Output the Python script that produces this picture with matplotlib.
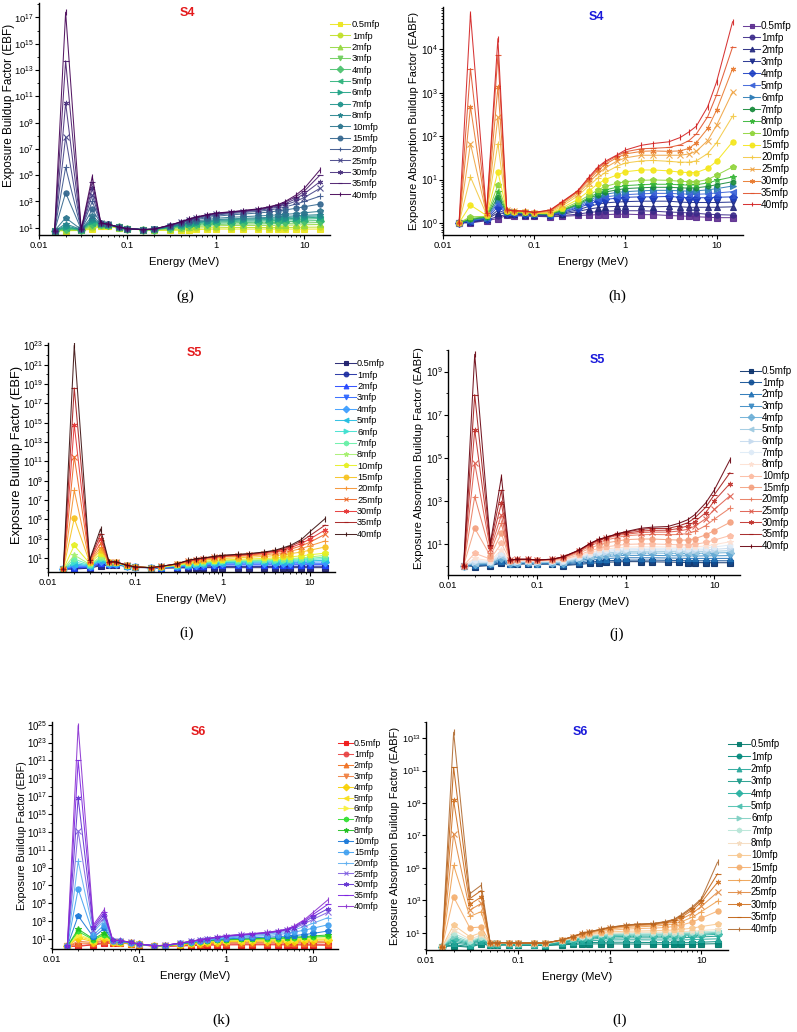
import numpy as np
import matplotlib
matplotlib.use("Agg")
import matplotlib.pyplot as plt
from matplotlib.ticker import FixedLocator, NullFormatter, FuncFormatter

plt.rcParams['font.family'] = ['Liberation Sans', 'DejaVu Sans']
plt.rcParams['mathtext.fontset'] = 'custom'
plt.rcParams['mathtext.rm'] = 'Liberation Sans'
plt.rcParams['mathtext.it'] = 'Liberation Sans:italic'
plt.rcParams['mathtext.bf'] = 'Liberation Sans:bold'

# photon energies (MeV)
energy = [0.015, 0.02, 0.03, 0.04, 0.05, 0.06, 0.08, 0.1, 0.15, 0.2, 0.3, 0.4, 0.5,
          0.6, 0.8, 1, 1.5, 2, 3, 4, 5, 6, 8, 10, 15]
mfp_labels = ['0.5mfp', '1mfp', '2mfp', '3mfp', '4mfp', '5mfp', '6mfp', '7mfp', '8mfp',
              '10mfp', '15mfp', '20mfp', '25mfp', '30mfp', '35mfp', '40mfp']

# log10 of the buildup factors, one row per penetration depth (0.5 ... 40 mfp)
ebf_s4 = [
    [0.77, 0.77, 0.8, 0.9, 1.1, 1.1, 1.0, 0.9, 0.85, 0.8, 0.8, 0.82, 0.85, 0.87, 0.88, 0.9, 0.9, 0.9, 0.9, 0.9, 0.9, 0.9, 0.9, 0.9, 0.9],
    [0.77, 0.8, 0.8, 1.0, 1.15, 1.15, 1.0, 0.9, 0.85, 0.82, 0.85, 0.9, 0.95, 0.98, 1.0, 1.0, 1.02, 1.02, 1.02, 1.02, 1.02, 1.02, 1.03, 1.04, 1.05],
    [0.77, 0.85, 0.82, 1.1, 1.2, 1.18, 1.02, 0.92, 0.86, 0.84, 0.92, 1.0, 1.06, 1.1, 1.13, 1.15, 1.17, 1.18, 1.18, 1.18, 1.19, 1.2, 1.21, 1.23, 1.25],
    [0.77, 0.9, 0.83, 1.2, 1.22, 1.2, 1.03, 0.92, 0.86, 0.85, 0.97, 1.07, 1.14, 1.19, 1.23, 1.25, 1.28, 1.29, 1.3, 1.31, 1.32, 1.33, 1.35, 1.37, 1.4],
    [0.77, 0.93, 0.84, 1.3, 1.25, 1.22, 1.04, 0.93, 0.86, 0.86, 1.0, 1.12, 1.2, 1.26, 1.31, 1.35, 1.38, 1.4, 1.42, 1.43, 1.45, 1.46, 1.49, 1.52, 1.55],
    [0.77, 1.0, 0.85, 1.4, 1.27, 1.23, 1.04, 0.93, 0.86, 0.87, 1.03, 1.16, 1.25, 1.32, 1.38, 1.43, 1.47, 1.5, 1.52, 1.54, 1.56, 1.58, 1.62, 1.66, 1.7],
    [0.77, 1.05, 0.86, 1.5, 1.28, 1.24, 1.05, 0.93, 0.86, 0.87, 1.05, 1.2, 1.3, 1.38, 1.45, 1.5, 1.55, 1.58, 1.61, 1.63, 1.66, 1.68, 1.72, 1.76, 1.8],
    [0.77, 1.15, 0.86, 1.6, 1.29, 1.24, 1.05, 0.93, 0.86, 0.88, 1.07, 1.23, 1.34, 1.42, 1.5, 1.56, 1.62, 1.65, 1.69, 1.72, 1.75, 1.77, 1.82, 1.86, 1.9],
    [0.77, 1.3, 0.87, 1.7, 1.3, 1.25, 1.05, 0.93, 0.86, 0.88, 1.08, 1.25, 1.38, 1.46, 1.55, 1.62, 1.68, 1.72, 1.76, 1.79, 1.83, 1.86, 1.91, 1.95, 2.0],
    [0.77, 1.76, 0.87, 1.9, 1.31, 1.25, 1.05, 0.93, 0.86, 0.88, 1.1, 1.29, 1.44, 1.53, 1.63, 1.72, 1.8, 1.84, 1.9, 1.94, 1.98, 2.02, 2.08, 2.14, 2.25],
    [0.77, 3.66, 0.88, 2.4, 1.33, 1.26, 1.05, 0.93, 0.86, 0.89, 1.13, 1.34, 1.52, 1.63, 1.76, 1.88, 1.98, 2.04, 2.12, 2.2, 2.28, 2.35, 2.48, 2.6, 2.8],
    [0.77, 5.6, 0.88, 3.0, 1.34, 1.26, 1.05, 0.93, 0.86, 0.89, 1.15, 1.38, 1.57, 1.7, 1.85, 1.97, 2.08, 2.15, 2.25, 2.35, 2.46, 2.58, 2.8, 3.0, 3.4],
    [0.77, 7.9, 0.88, 3.5, 1.35, 1.27, 1.05, 0.93, 0.86, 0.9, 1.17, 1.41, 1.61, 1.75, 1.92, 2.03, 2.14, 2.22, 2.32, 2.45, 2.58, 2.72, 3.02, 3.3, 4.0],
    [0.77, 10.5, 0.88, 4.0, 1.36, 1.27, 1.05, 0.93, 0.86, 0.9, 1.18, 1.43, 1.64, 1.78, 1.96, 2.07, 2.18, 2.26, 2.37, 2.52, 2.66, 2.82, 3.2, 3.6, 4.5],
    [0.77, 13.7, 0.88, 4.5, 1.36, 1.27, 1.05, 0.93, 0.86, 0.9, 1.19, 1.44, 1.66, 1.8, 1.99, 2.1, 2.2, 2.29, 2.41, 2.57, 2.72, 2.92, 3.35, 3.8, 5.0],
    [0.77, 17.4, 0.88, 4.9, 1.37, 1.27, 1.05, 0.93, 0.86, 0.9, 1.2, 1.45, 1.68, 1.82, 2.0, 2.12, 2.22, 2.31, 2.44, 2.6, 2.76, 2.98, 3.48, 4.0, 5.4],
]

eabf_s4 = [
    [0, 0, 0.05, 0.1, 0.17, 0.16, 0.16, 0.15, 0.14, 0.15, 0.17, 0.18, 0.19, 0.19, 0.2, 0.2, 0.19, 0.19, 0.17, 0.16, 0.15, 0.14, 0.13, 0.12, 0.12],
    [0, 0.01, 0.06, 0.15, 0.19, 0.18, 0.17, 0.16, 0.15, 0.17, 0.2, 0.24, 0.26, 0.27, 0.28, 0.28, 0.28, 0.27, 0.25, 0.24, 0.23, 0.22, 0.2, 0.19, 0.18],
    [0, 0.02, 0.08, 0.23, 0.21, 0.2, 0.19, 0.18, 0.17, 0.2, 0.26, 0.32, 0.35, 0.37, 0.38, 0.38, 0.38, 0.37, 0.38, 0.37, 0.36, 0.36, 0.36, 0.36, 0.37],
    [0, 0.03, 0.09, 0.29, 0.22, 0.21, 0.2, 0.19, 0.18, 0.22, 0.3, 0.38, 0.43, 0.46, 0.48, 0.49, 0.5, 0.5, 0.5, 0.48, 0.47, 0.47, 0.47, 0.47, 0.48],
    [0, 0.04, 0.1, 0.37, 0.23, 0.22, 0.21, 0.2, 0.19, 0.24, 0.34, 0.44, 0.5, 0.54, 0.57, 0.59, 0.6, 0.6, 0.61, 0.59, 0.58, 0.58, 0.58, 0.59, 0.6],
    [0, 0.05, 0.11, 0.45, 0.24, 0.23, 0.22, 0.2, 0.19, 0.25, 0.37, 0.48, 0.56, 0.6, 0.63, 0.65, 0.67, 0.68, 0.68, 0.67, 0.66, 0.66, 0.67, 0.69, 0.72],
    [0, 0.06, 0.12, 0.52, 0.25, 0.24, 0.22, 0.21, 0.2, 0.27, 0.4, 0.52, 0.61, 0.66, 0.7, 0.72, 0.74, 0.75, 0.75, 0.74, 0.73, 0.74, 0.76, 0.79, 0.85],
    [0, 0.08, 0.13, 0.6, 0.26, 0.24, 0.23, 0.21, 0.2, 0.28, 0.42, 0.56, 0.65, 0.71, 0.76, 0.79, 0.81, 0.82, 0.82, 0.81, 0.8, 0.81, 0.84, 0.88, 0.95],
    [0, 0.1, 0.14, 0.72, 0.26, 0.25, 0.23, 0.21, 0.21, 0.29, 0.44, 0.59, 0.69, 0.76, 0.82, 0.86, 0.88, 0.89, 0.89, 0.88, 0.87, 0.88, 0.92, 0.98, 1.06],
    [0, 0.14, 0.15, 0.87, 0.27, 0.25, 0.24, 0.22, 0.21, 0.31, 0.48, 0.64, 0.76, 0.84, 0.91, 0.95, 0.98, 0.99, 0.98, 0.96, 0.95, 0.95, 1.0, 1.1, 1.29],
    [0, 0.41, 0.17, 1.18, 0.28, 0.26, 0.25, 0.22, 0.22, 0.34, 0.54, 0.74, 0.9, 1.0, 1.1, 1.18, 1.22, 1.22, 1.2, 1.17, 1.16, 1.16, 1.26, 1.42, 1.87],
    [0, 1.06, 0.19, 1.83, 0.29, 0.27, 0.26, 0.23, 0.24, 0.38, 0.62, 0.86, 1.04, 1.16, 1.3, 1.38, 1.43, 1.44, 1.42, 1.4, 1.4, 1.43, 1.6, 1.85, 2.46],
    [0, 1.83, 0.2, 2.45, 0.29, 0.27, 0.26, 0.23, 0.26, 0.42, 0.67, 0.93, 1.14, 1.27, 1.42, 1.5, 1.56, 1.56, 1.56, 1.56, 1.59, 1.65, 1.9, 2.25, 3.02],
    [0, 2.68, 0.21, 3.14, 0.3, 0.28, 0.27, 0.24, 0.28, 0.45, 0.71, 0.99, 1.21, 1.35, 1.5, 1.59, 1.65, 1.66, 1.65, 1.66, 1.72, 1.85, 2.18, 2.6, 3.56],
    [0, 3.56, 0.22, 3.87, 0.3, 0.28, 0.27, 0.24, 0.29, 0.47, 0.73, 1.03, 1.26, 1.39, 1.54, 1.64, 1.71, 1.72, 1.74, 1.8, 1.9, 2.05, 2.45, 2.95, 4.06],
    [0, 4.83, 0.22, 4.25, 0.3, 0.28, 0.27, 0.24, 0.3, 0.48, 0.74, 1.06, 1.29, 1.42, 1.56, 1.68, 1.79, 1.83, 1.87, 1.97, 2.1, 2.23, 2.68, 3.25, 4.64],
]

ebf_s5 = [
    [-0.15, -0.15, -0.05, 0.2, 0.25, 0.3, 0.12, 0.02, -0.02, -0.05, -0.03, -0.02, -0.01, 0.0, 0.0, 0.0, 0.0, 0.0, 0.0, 0.0, 0.0, 0.0, 0.0, 0.0, 0.0],
    [-0.15, -0.1, 0.0, 0.32, 0.3, 0.33, 0.14, 0.04, 0.0, -0.03, 0.02, 0.05, 0.08, 0.09, 0.1, 0.12, 0.12, 0.12, 0.12, 0.12, 0.13, 0.13, 0.13, 0.14, 0.14],
    [-0.15, 0.0, 0.05, 0.45, 0.35, 0.36, 0.15, 0.05, 0.0, -0.02, 0.06, 0.12, 0.17, 0.2, 0.23, 0.27, 0.28, 0.28, 0.28, 0.28, 0.29, 0.29, 0.3, 0.3, 0.31],
    [-0.15, 0.1, 0.1, 0.55, 0.38, 0.38, 0.16, 0.05, 0.0, 0.0, 0.1, 0.18, 0.24, 0.28, 0.33, 0.37, 0.38, 0.38, 0.38, 0.38, 0.39, 0.39, 0.4, 0.4, 0.41],
    [-0.15, 0.25, 0.15, 0.65, 0.42, 0.41, 0.17, 0.06, 0.0, 0.02, 0.14, 0.23, 0.3, 0.35, 0.4, 0.45, 0.47, 0.48, 0.49, 0.5, 0.51, 0.52, 0.54, 0.56, 0.6],
    [-0.15, 0.4, 0.2, 0.75, 0.45, 0.43, 0.18, 0.06, 0.0, 0.03, 0.17, 0.28, 0.36, 0.42, 0.48, 0.52, 0.55, 0.57, 0.59, 0.61, 0.63, 0.65, 0.68, 0.71, 0.76],
    [-0.15, 0.6, 0.25, 0.85, 0.47, 0.45, 0.19, 0.06, 0.0, 0.04, 0.2, 0.32, 0.42, 0.48, 0.55, 0.6, 0.63, 0.65, 0.68, 0.7, 0.73, 0.75, 0.8, 0.85, 0.93],
    [-0.15, 0.9, 0.3, 0.95, 0.5, 0.47, 0.2, 0.07, 0.0, 0.05, 0.23, 0.36, 0.46, 0.53, 0.6, 0.66, 0.7, 0.72, 0.75, 0.78, 0.81, 0.84, 0.9, 0.96, 1.1],
    [-0.15, 1.3, 0.35, 1.1, 0.52, 0.49, 0.21, 0.07, 0.0, 0.06, 0.25, 0.4, 0.5, 0.58, 0.66, 0.72, 0.76, 0.79, 0.83, 0.86, 0.9, 0.94, 1.01, 1.1, 1.28],
    [-0.15, 2.3, 0.45, 1.45, 0.55, 0.52, 0.22, 0.07, 0.0, 0.08, 0.29, 0.46, 0.58, 0.66, 0.74, 0.8, 0.86, 0.9, 0.95, 1.0, 1.06, 1.12, 1.22, 1.33, 1.5],
    [-0.15, 5.1, 0.55, 1.8, 0.57, 0.55, 0.23, 0.07, 0.0, 0.1, 0.33, 0.54, 0.68, 0.78, 0.88, 0.95, 1.02, 1.08, 1.16, 1.25, 1.34, 1.44, 1.62, 1.8, 2.14],
    [-0.15, 8.0, 0.62, 2.1, 0.58, 0.57, 0.24, 0.07, 0.0, 0.11, 0.36, 0.6, 0.76, 0.86, 0.98, 1.1, 1.16, 1.22, 1.32, 1.44, 1.56, 1.7, 1.98, 2.25, 2.76],
    [-0.15, 11.5, 0.68, 2.5, 0.59, 0.58, 0.24, 0.07, 0.0, 0.12, 0.38, 0.65, 0.82, 0.92, 1.06, 1.15, 1.24, 1.31, 1.44, 1.58, 1.73, 1.9, 2.26, 2.62, 3.45],
    [-0.15, 14.8, 0.72, 3.0, 0.6, 0.59, 0.25, 0.07, 0.0, 0.13, 0.39, 0.7, 0.87, 0.96, 1.12, 1.2, 1.3, 1.37, 1.52, 1.68, 1.86, 2.06, 2.5, 2.95, 3.9],
    [-0.15, 18.6, 0.76, 3.5, 0.6, 0.6, 0.25, 0.07, 0.0, 0.14, 0.4, 0.73, 0.9, 0.98, 1.15, 1.25, 1.34, 1.42, 1.58, 1.75, 1.98, 2.2, 2.72, 3.3, 4.4],
    [-0.15, 23.0, 0.8, 4.0, 0.6, 0.6, 0.25, 0.07, 0.0, 0.14, 0.4, 0.75, 0.93, 1.0, 1.17, 1.28, 1.38, 1.45, 1.62, 1.8, 2.07, 2.3, 2.9, 3.7, 5.07],
]

eabf_s5 = [
    [0, -0.05, 0.0, 0.1, 0.05, 0.06, 0.08, 0.06, 0.07, 0.0, 0.05, 0.1, 0.13, 0.15, 0.17, 0.18, 0.18, 0.17, 0.16, 0.15, 0.14, 0.14, 0.13, 0.13, 0.13],
    [0, 0.0, 0.02, 0.15, 0.07, 0.08, 0.09, 0.07, 0.08, 0.02, 0.1, 0.16, 0.2, 0.22, 0.24, 0.25, 0.25, 0.25, 0.24, 0.23, 0.22, 0.22, 0.22, 0.22, 0.22],
    [0, 0.02, 0.05, 0.22, 0.09, 0.1, 0.11, 0.09, 0.1, 0.05, 0.16, 0.24, 0.29, 0.32, 0.35, 0.36, 0.36, 0.36, 0.35, 0.34, 0.33, 0.33, 0.33, 0.33, 0.33],
    [0, 0.05, 0.08, 0.3, 0.11, 0.12, 0.13, 0.11, 0.12, 0.08, 0.22, 0.32, 0.38, 0.42, 0.45, 0.47, 0.47, 0.47, 0.46, 0.45, 0.45, 0.44, 0.45, 0.45, 0.46],
    [0, 0.08, 0.1, 0.35, 0.13, 0.14, 0.15, 0.13, 0.14, 0.12, 0.28, 0.39, 0.46, 0.51, 0.55, 0.58, 0.58, 0.58, 0.57, 0.56, 0.56, 0.56, 0.57, 0.58, 0.6],
    [0, 0.12, 0.12, 0.42, 0.15, 0.16, 0.17, 0.15, 0.16, 0.15, 0.33, 0.45, 0.53, 0.58, 0.62, 0.65, 0.66, 0.66, 0.65, 0.64, 0.64, 0.64, 0.65, 0.66, 0.69],
    [0, 0.18, 0.15, 0.5, 0.17, 0.18, 0.19, 0.17, 0.18, 0.18, 0.37, 0.5, 0.59, 0.65, 0.69, 0.72, 0.73, 0.73, 0.72, 0.71, 0.71, 0.71, 0.73, 0.75, 0.8],
    [0, 0.25, 0.18, 0.6, 0.19, 0.2, 0.21, 0.19, 0.2, 0.21, 0.41, 0.55, 0.65, 0.71, 0.75, 0.78, 0.8, 0.8, 0.79, 0.78, 0.78, 0.79, 0.82, 0.86, 0.95],
    [0, 0.33, 0.22, 0.72, 0.2, 0.22, 0.23, 0.2, 0.22, 0.24, 0.45, 0.6, 0.71, 0.77, 0.82, 0.85, 0.87, 0.87, 0.86, 0.85, 0.85, 0.86, 0.91, 0.97, 1.1],
    [0, 0.57, 0.3, 1.03, 0.22, 0.24, 0.25, 0.22, 0.24, 0.28, 0.5, 0.68, 0.8, 0.87, 0.93, 0.98, 1.0, 1.0, 0.98, 0.96, 0.95, 0.98, 1.07, 1.18, 1.39],
    [0, 1.73, 0.45, 1.5, 0.23, 0.26, 0.27, 0.24, 0.26, 0.33, 0.58, 0.8, 0.96, 1.05, 1.13, 1.2, 1.23, 1.23, 1.2, 1.18, 1.18, 1.24, 1.42, 1.62, 2.0],
    [0, 3.2, 0.6, 1.96, 0.24, 0.27, 0.28, 0.25, 0.27, 0.36, 0.64, 0.9, 1.08, 1.18, 1.3, 1.38, 1.43, 1.44, 1.43, 1.44, 1.48, 1.58, 1.85, 2.15, 2.66],
    [0, 4.75, 0.75, 2.35, 0.25, 0.28, 0.28, 0.25, 0.28, 0.38, 0.68, 0.96, 1.15, 1.26, 1.39, 1.45, 1.53, 1.55, 1.55, 1.6, 1.68, 1.82, 2.17, 2.6, 3.23],
    [0, 6.3, 0.85, 2.9, 0.26, 0.29, 0.29, 0.26, 0.29, 0.4, 0.7, 1.0, 1.19, 1.29, 1.44, 1.5, 1.6, 1.63, 1.64, 1.72, 1.84, 2.03, 2.45, 3.0, 3.8],
    [0, 7.93, 0.95, 3.5, 0.26, 0.29, 0.29, 0.26, 0.29, 0.41, 0.71, 1.02, 1.21, 1.3, 1.46, 1.55, 1.68, 1.72, 1.72, 1.84, 1.98, 2.2, 2.7, 3.28, 4.3],
    [0, 9.8, 1.03, 4.13, 0.26, 0.29, 0.29, 0.26, 0.29, 0.41, 0.72, 1.03, 1.22, 1.31, 1.47, 1.57, 1.73, 1.78, 1.81, 1.96, 2.12, 2.35, 2.9, 3.5, 4.9],
]

ebf_s6 = [
    [0.18, 0.18, 0.35, 0.5, 0.55, 0.55, 0.45, 0.35, 0.2, 0.18, 0.22, 0.26, 0.29, 0.31, 0.33, 0.34, 0.35, 0.35, 0.35, 0.35, 0.35, 0.35, 0.33, 0.32, 0.3],
    [0.18, 0.25, 0.4, 0.6, 0.58, 0.57, 0.47, 0.36, 0.21, 0.2, 0.27, 0.33, 0.37, 0.4, 0.42, 0.44, 0.45, 0.45, 0.45, 0.45, 0.45, 0.44, 0.43, 0.42, 0.4],
    [0.18, 0.55, 0.5, 0.8, 0.62, 0.6, 0.49, 0.37, 0.22, 0.22, 0.32, 0.4, 0.46, 0.5, 0.53, 0.55, 0.57, 0.58, 0.58, 0.58, 0.58, 0.58, 0.58, 0.58, 0.6],
    [0.18, 0.75, 0.6, 0.9, 0.65, 0.62, 0.5, 0.38, 0.22, 0.23, 0.35, 0.45, 0.52, 0.57, 0.61, 0.64, 0.66, 0.67, 0.68, 0.69, 0.7, 0.7, 0.71, 0.72, 0.75],
    [0.18, 1.1, 0.7, 1.1, 0.68, 0.64, 0.51, 0.39, 0.23, 0.24, 0.38, 0.5, 0.58, 0.63, 0.68, 0.72, 0.75, 0.77, 0.79, 0.8, 0.82, 0.83, 0.85, 0.87, 0.9],
    [0.18, 1.3, 0.8, 1.2, 0.7, 0.66, 0.52, 0.39, 0.23, 0.25, 0.4, 0.53, 0.62, 0.68, 0.74, 0.78, 0.82, 0.84, 0.87, 0.89, 0.91, 0.93, 0.96, 0.98, 1.0],
    [0.18, 1.5, 0.85, 1.3, 0.72, 0.67, 0.53, 0.4, 0.23, 0.25, 0.42, 0.56, 0.66, 0.72, 0.79, 0.84, 0.88, 0.91, 0.94, 0.97, 1.0, 1.02, 1.06, 1.1, 1.15],
    [0.18, 1.85, 0.9, 1.5, 0.74, 0.68, 0.54, 0.4, 0.24, 0.26, 0.44, 0.59, 0.7, 0.77, 0.84, 0.9, 0.95, 0.98, 1.02, 1.05, 1.09, 1.12, 1.17, 1.22, 1.3],
    [0.18, 2.1, 1.0, 1.7, 0.76, 0.7, 0.55, 0.41, 0.24, 0.26, 0.45, 0.61, 0.73, 0.8, 0.88, 0.94, 1.0, 1.04, 1.08, 1.12, 1.16, 1.2, 1.27, 1.34, 1.45],
    [0.18, 3.6, 1.2, 2.2, 0.78, 0.72, 0.56, 0.41, 0.24, 0.27, 0.47, 0.64, 0.77, 0.85, 0.95, 1.02, 1.09, 1.14, 1.2, 1.26, 1.32, 1.38, 1.5, 1.62, 1.9],
    [0.18, 6.6, 1.45, 2.6, 0.8, 0.74, 0.58, 0.42, 0.25, 0.27, 0.5, 0.68, 0.82, 0.92, 1.04, 1.12, 1.22, 1.29, 1.39, 1.5, 1.62, 1.75, 2.0, 2.2, 2.6],
    [0.18, 9.7, 1.8, 3.1, 0.82, 0.78, 0.6, 0.43, 0.25, 0.28, 0.52, 0.71, 0.86, 0.97, 1.11, 1.21, 1.33, 1.41, 1.54, 1.68, 1.83, 2.0, 2.4, 2.75, 3.4],
    [0.18, 13.1, 2.0, 3.4, 0.83, 0.8, 0.61, 0.43, 0.25, 0.28, 0.53, 0.72, 0.89, 1.0, 1.16, 1.27, 1.41, 1.5, 1.64, 1.8, 1.97, 2.18, 2.7, 3.2, 4.0],
    [0.18, 16.8, 2.2, 3.7, 0.84, 0.82, 0.62, 0.44, 0.25, 0.29, 0.54, 0.73, 0.91, 1.02, 1.19, 1.32, 1.46, 1.55, 1.7, 1.86, 2.04, 2.28, 2.88, 3.5, 4.4],
    [0.18, 21.0, 2.4, 4.0, 0.85, 0.84, 0.63, 0.44, 0.25, 0.29, 0.55, 0.74, 0.92, 1.03, 1.21, 1.35, 1.5, 1.58, 1.73, 1.9, 2.08, 2.36, 3.03, 3.72, 4.9],
    [0.18, 24.9, 2.6, 4.3, 0.85, 0.85, 0.63, 0.44, 0.25, 0.29, 0.55, 0.74, 0.93, 1.04, 1.22, 1.37, 1.52, 1.6, 1.75, 1.93, 2.12, 2.42, 3.16, 3.95, 5.4],
]

eabf_s6 = [
    [0.14, 0.18, 0.1, 0.3, 0.22, 0.22, 0.24, 0.22, 0.22, 0.2, 0.25, 0.28, 0.3, 0.3, 0.31, 0.31, 0.3, 0.3, 0.29, 0.28, 0.28, 0.28, 0.28, 0.3, 0.32],
    [0.14, 0.25, 0.15, 0.38, 0.25, 0.25, 0.26, 0.24, 0.24, 0.22, 0.3, 0.35, 0.38, 0.39, 0.4, 0.41, 0.41, 0.4, 0.39, 0.38, 0.38, 0.38, 0.39, 0.41, 0.45],
    [0.14, 0.38, 0.22, 0.48, 0.28, 0.28, 0.28, 0.27, 0.26, 0.25, 0.35, 0.43, 0.48, 0.5, 0.53, 0.55, 0.56, 0.56, 0.55, 0.55, 0.55, 0.55, 0.57, 0.59, 0.62],
    [0.14, 0.48, 0.28, 0.55, 0.3, 0.3, 0.3, 0.29, 0.28, 0.27, 0.4, 0.5, 0.57, 0.6, 0.64, 0.66, 0.68, 0.68, 0.68, 0.68, 0.68, 0.69, 0.71, 0.74, 0.78],
    [0.14, 0.58, 0.33, 0.6, 0.32, 0.32, 0.32, 0.3, 0.3, 0.29, 0.43, 0.55, 0.63, 0.67, 0.72, 0.75, 0.77, 0.78, 0.78, 0.78, 0.79, 0.8, 0.82, 0.85, 0.9],
    [0.14, 0.68, 0.38, 0.65, 0.33, 0.33, 0.33, 0.31, 0.31, 0.3, 0.46, 0.59, 0.68, 0.73, 0.78, 0.82, 0.84, 0.85, 0.86, 0.86, 0.87, 0.88, 0.9, 0.92, 0.96],
    [0.14, 0.8, 0.43, 0.7, 0.34, 0.34, 0.34, 0.32, 0.32, 0.31, 0.48, 0.62, 0.72, 0.78, 0.84, 0.88, 0.9, 0.91, 0.92, 0.92, 0.93, 0.94, 0.96, 0.98, 1.02],
    [0.14, 0.96, 0.5, 0.75, 0.35, 0.35, 0.35, 0.33, 0.33, 0.32, 0.5, 0.65, 0.76, 0.82, 0.89, 0.93, 0.96, 0.97, 0.98, 0.98, 0.99, 1.0, 1.02, 1.05, 1.1],
    [0.14, 1.16, 0.6, 0.85, 0.36, 0.36, 0.36, 0.34, 0.34, 0.33, 0.51, 0.67, 0.79, 0.86, 0.93, 0.98, 1.01, 1.02, 1.03, 1.04, 1.05, 1.06, 1.09, 1.13, 1.2],
    [0.14, 1.47, 0.75, 1.0, 0.37, 0.37, 0.37, 0.35, 0.35, 0.34, 0.52, 0.7, 0.83, 0.91, 0.99, 1.05, 1.09, 1.1, 1.12, 1.14, 1.16, 1.2, 1.28, 1.38, 1.53],
    [0.14, 3.2, 1.3, 1.35, 0.38, 0.38, 0.38, 0.36, 0.36, 0.35, 0.53, 0.73, 0.88, 0.97, 1.07, 1.15, 1.22, 1.25, 1.28, 1.32, 1.38, 1.46, 1.66, 1.9, 2.33],
    [0.14, 5.16, 2.0, 2.3, 0.38, 0.38, 0.38, 0.36, 0.36, 0.36, 0.54, 0.74, 0.92, 1.01, 1.13, 1.23, 1.32, 1.36, 1.4, 1.46, 1.54, 1.66, 1.96, 2.3, 2.95],
    [0.14, 7.1, 2.4, 2.8, 0.38, 0.38, 0.38, 0.36, 0.36, 0.36, 0.55, 0.75, 0.94, 1.04, 1.17, 1.28, 1.39, 1.44, 1.48, 1.56, 1.66, 1.82, 2.2, 2.62, 3.5],
    [0.14, 9.16, 2.75, 3.2, 0.38, 0.38, 0.38, 0.36, 0.36, 0.36, 0.55, 0.76, 0.95, 1.05, 1.19, 1.31, 1.43, 1.49, 1.53, 1.62, 1.74, 1.94, 2.4, 2.88, 4.1],
    [0.14, 11.2, 3.1, 3.6, 0.38, 0.38, 0.38, 0.36, 0.36, 0.36, 0.55, 0.76, 0.96, 1.06, 1.2, 1.32, 1.46, 1.52, 1.56, 1.66, 1.79, 2.03, 2.52, 3.02, 4.63],
    [0.14, 13.37, 3.4, 3.93, 0.38, 0.38, 0.38, 0.36, 0.36, 0.36, 0.55, 0.76, 0.96, 1.06, 1.2, 1.33, 1.47, 1.53, 1.57, 1.68, 1.82, 2.09, 2.6, 3.1, 5.35],
]

markers = ['s', 'o', '^', 'v', 'D', '<', '>', 'h', '*', 'p', 'o', '+', 'x', (6, 2, 0), '_', '|']

colors_g = [plt.cm.viridis(v) for v in np.linspace(0.97, 0.0, 16)]
colors_h = ['#5b2c8f', '#3b2a8a', '#22277e', '#1a2a8c', '#1d3fc4', '#3a62d8', '#2c7bb6', '#178a3a',
            '#36b536', '#8fd43a', '#f4e619', '#f3c843', '#efa23f', '#e8782c', '#e0522b', '#d21f1f']
colors_i = ['#1b1b6b', '#1a2aa0', '#2244ff', '#2a64ff', '#3a9cff', '#22bde0', '#3fe0d0', '#66f0a6',
            '#a6f070', '#e6f020', '#f7c21e', '#f6922e', '#ee6422', '#e63232', '#a31a1a', '#3a0d0d']
colors_j = ['#08306b', '#0d4d94', '#2171b5', '#3a8ac4', '#6baed6', '#9ecae1', '#c6dbef', '#deebf7',
            '#fde0d2', '#fcbba1', '#f4a07e', '#e8795d', '#de5a4a', '#c0302a', '#a01a1a', '#67000d']
colors_k = ['#f01414', '#e84040', '#f07020', '#f08040', '#f8d000', '#f8e020', '#f8f040', '#30e030',
            '#20c020', '#1878d8', '#40a0f0', '#60b0f0', '#8060e0', '#6030d0', '#7a20e0', '#8a30d0']
colors_l = ['#00796b', '#00897b', '#26a69a', '#1e9a8a', '#26b0a0', '#4dc0b0', '#80d0c4', '#b8e6d8',
            '#f5dcc0', '#f8c890', '#f5b070', '#eea050', '#e08840', '#d07020', '#c06010', '#b06a30']

W, H = 797, 1032
fig = plt.figure(figsize=(W / 100, H / 100), dpi=100)

# layout in reference pixels: axes box (l, t, r, b); ylabel right edge x; legend (handle x,
# first row y, row pitch, font size, handle px, text x)
panels = [
    dict(data=ebf_s4, colors=colors_g, box=(39, 3, 330, 235), ylim=(0.45, 18.1), step=2, first=1,
         title='S4', tcolor='#e41a1c', ylabel='Exposure Buildup Factor (EBF)', ylfs=8.5, ylx=15, yly=0.56,
         ytfs=6.8, leg=(330, 24, 11.67, 6.7, 20, 352), tag='(g)', tagxy=(185, 296)),
    dict(data=eabf_s4, colors=colors_h, box=(443, 7, 743, 235), ylim=(-0.28, 4.98), step=1, first=0,
         title='S4', tcolor='#1a1adb', ylabel='Exposure Absorption Buildup Factor (EABF)', ylfs=8.0, ylx=419, yly=0.5,
         ytfs=7.2, leg=(743, 25, 11.93, 7.2, 17, 761), tag='(h)', tagxy=(617, 296)),
    dict(data=ebf_s5, colors=colors_i, box=(48, 343, 335, 572), ylim=(-0.45, 23.25), step=2, first=1,
         title='S5', tcolor='#e41a1c', ylabel='Exposure Buildup Factor (EBF)', ylfs=9.3, ylx=23, yly=0.51,
         ytfs=6.9, leg=(335, 363, 11.53, 6.6, 21, 357), tag='(i)', tagxy=(187, 633)),
    dict(data=eabf_s5, colors=colors_j, box=(448, 350, 740, 575), ylim=(-0.44, 10.0), step=2, first=1,
         title='S5', tcolor='#1a1adb', ylabel='Exposure Absorption Buildup Factor (EABF)', ylfs=8.2, ylx=424, yly=0.52,
         ytfs=7.2, leg=(740, 370, 11.53, 7.1, 21, 762), tag='(j)', tagxy=(617, 634)),
    dict(data=ebf_s6, colors=colors_k, box=(52, 722, 338, 949), ylim=(-0.12, 25.3), step=2, first=1,
         title='S6', tcolor='#e41a1c', ylabel='Exposure Buildup Factor (EBF)', ylfs=7.7, ylx=27, yly=0.5,
         ytfs=6.9, leg=(338, 743, 10.73, 6.4, 15, 354), tag='(k)', tagxy=(221, 1020)),
    dict(data=eabf_s6, colors=colors_l, box=(426, 722, 728, 950), ylim=(-0.07, 14.0), step=2, first=1,
         title='S6', tcolor='#1a1adb', ylabel='Exposure Absorption Buildup Factor (EABF)', ylfs=8.0, ylx=400, yly=0.5,
         ytfs=6.6, leg=(728, 743, 11.93, 6.9, 22, 751), tag='(l)', tagxy=(620, 1020)),
]


def sci_label(v, pos):
    e = int(round(np.log10(v)))
    return r'$\mathdefault{10^{%d}}$' % e


for p in panels:
    l, t, r, b = p['box']
    ax = fig.add_axes([l / W, 1 - b / H, (r - l) / W, (b - t) / H])
    for vals, c, m, lab in zip(p['data'], p['colors'], markers, mfp_labels):
        ax.plot(energy, 10 ** np.array(vals), color=c, marker=m, ms=3.8, lw=0.75, mew=0.8,
                label=lab, alpha=0.9)
    ax.set_xscale('log')
    ax.set_yscale('log')
    ax.set_xlim(0.01, 19.5)
    ax.set_ylim(10 ** p['ylim'][0], 10 ** p['ylim'][1])
    for s in ['top', 'right']:
        ax.spines[s].set_visible(False)
    for s in ['left', 'bottom']:
        ax.spines[s].set_linewidth(1.0)

    ax.xaxis.set_major_locator(FixedLocator([0.01, 0.1, 1, 10]))
    ax.set_xticklabels(['0.01', '0.1', '1', '10'])
    ax.xaxis.set_minor_locator(FixedLocator([k * 10.0 ** e for e in range(-2, 2) for k in range(2, 10)]))
    ax.xaxis.set_minor_formatter(NullFormatter())

    lo, hi = int(np.floor(p['ylim'][0])), int(np.ceil(p['ylim'][1]))
    majors = [10.0 ** e for e in range(p['first'], hi + 1, p['step'])]
    ax.yaxis.set_major_locator(FixedLocator(majors))
    ax.yaxis.set_major_formatter(FuncFormatter(sci_label))
    if p['step'] == 1:
        minors = [k * 10.0 ** e for e in range(lo, hi + 1) for k in range(2, 10)]
    else:
        minors = [10.0 ** e for e in range(lo, hi + 1) if (e - p['first']) % 2]
    ax.yaxis.set_minor_locator(FixedLocator(minors))
    ax.yaxis.set_minor_formatter(NullFormatter())

    ax.tick_params(which='major', direction='out', length=2.6, width=0.8, pad=1.0)
    ax.tick_params(which='minor', direction='out', length=1.5, width=0.6)
    ax.tick_params(axis='x', labelsize=6.8, pad=2)
    ax.tick_params(axis='y', labelsize=p['ytfs'])

    ax.set_xlabel('Energy (MeV)', fontsize=8.2, labelpad=5)
    ax.set_ylabel(p['ylabel'], fontsize=p['ylfs'])
    ax.yaxis.set_label_coords((p['ylx'] - l) / (r - l), p['yly'])
    ax.text(0.51, 0.955, p['title'], transform=ax.transAxes, color=p['tcolor'],
            fontsize=9, fontweight='bold', ha='center', va='center')

    lx, ly, pitch, fs, hpx, tx0 = p['leg']
    fpx = fs * 100 / 72
    fig.legend(*ax.get_legend_handles_labels(), loc='upper left',
               bbox_to_anchor=(lx / W, 1 - (ly - 0.4 * fpx) / H), bbox_transform=fig.transFigure,
               frameon=False, fontsize=fs, borderpad=0, borderaxespad=0, handlelength=hpx / fpx,
               handletextpad=(tx0 - lx - hpx) / fpx, labelspacing=pitch / fpx - 1.0, markerscale=0.9)

    tx, ty = p['tagxy']
    fig.text(tx / W, 1 - ty / H, p['tag'], family=['Liberation Serif', 'DejaVu Serif'],
             fontsize=11, ha='center', va='center')

fig.savefig('out.png', dpi=100)
